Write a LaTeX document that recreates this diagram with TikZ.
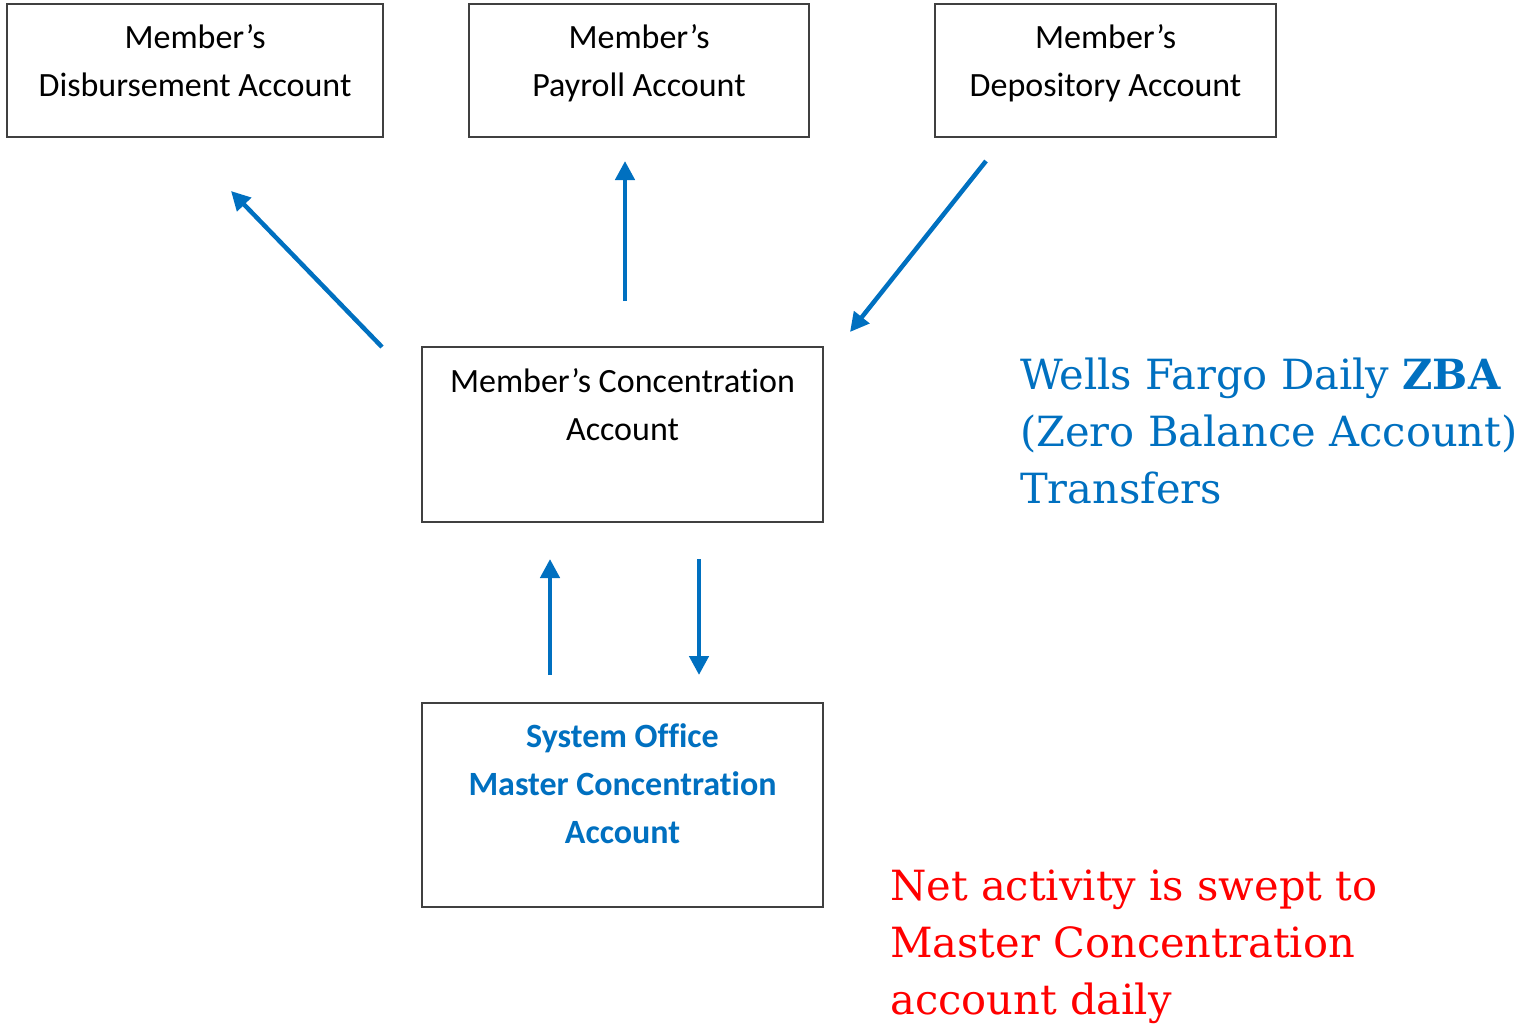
\documentclass[tikz,border=0pt]{standalone}
\usepackage{fontspec}
\setmainfont{Carlito}[Ligatures=NoCommon]
\newfontfamily\serifA{DejaVu Serif}
\usetikzlibrary{arrows.meta}
\definecolor{zbablue}{HTML}{0070C0}
\definecolor{zbared}{HTML}{FF0000}
\definecolor{boxgray}{HTML}{404040}
\tikzset{
  acctbox/.style={draw=boxgray, line width=2pt, fill=white, inner sep=0pt},
  boxtext/.style={font=\fontsize{34}{48}\selectfont, align=center, inner sep=0pt, text=black},
  flow/.style={draw=zbablue, line width=4.5pt, -{Triangle[length=19pt,width=19pt]}},
  note/.style={font=\serifA\fontsize{41.6}{57}\selectfont, align=left, anchor=north west, inner sep=0pt}
}
\begin{document}
\begin{tikzpicture}[x=1pt,y=-1pt]
\useasboundingbox (0,0) rectangle (1522,1028);
% boxes
\node[acctbox, minimum width=376pt, minimum height=133pt] (b1) at (195,70.5) {};
\node[acctbox, minimum width=340pt, minimum height=133pt] (b2) at (639,70.5) {};
\node[acctbox, minimum width=341pt, minimum height=133pt] (b3) at (1105.5,70.5) {};
\node[acctbox, minimum width=401pt, minimum height=175pt] (b4) at (622.5,434.5) {};
\node[acctbox, minimum width=401pt, minimum height=204pt] (b5) at (622.5,805) {};
% box texts
\node[boxtext] (t1) at (195,61) {Member’s\\Disbursement Account};
\node[boxtext] (t2) at (639,63) {Member’s\\Payroll Account};
\node[boxtext] (t3) at (1105.5,63) {Member’s\\Depository Account};
\node[boxtext] (t4) at (622.5,405) {Member’s Concentration\\Account};
\node[boxtext, text=zbablue, font=\bfseries\fontsize{34}{48}\selectfont] (t5) at (622.5,784) {System Office\\Master Concentration\\Account};
% arrow end points
\coordinate (a1s) at (382,347);
\coordinate (a1e) at (231,191);
\coordinate (a2s) at (625,301);
\coordinate (a2e) at (625,161);
\coordinate (a3s) at (986,161);
\coordinate (a3e) at (850,332);
\coordinate (a4s) at (550,675);
\coordinate (a4e) at (550,559);
\coordinate (a5s) at (699,559);
\coordinate (a5e) at (699,675);
\draw[flow] (a1s) -- (a1e);
\draw[flow] (a2s) -- (a2e);
\draw[flow] (a3s) -- (a3e);
\draw[flow] (a4s) -- (a4e);
\draw[flow] (a5s) -- (a5e);
% notes
\node[note, text=zbablue] (n1) at (1020,357.5) {Wells Fargo Daily \textbf{ZBA}\\(Zero Balance Account)\\Transfers};
\node[note, text=zbared] (n2) at (890,869.5) {Net activity is swept to\\Master Concentration\\account daily};
\end{tikzpicture}
\end{document}
